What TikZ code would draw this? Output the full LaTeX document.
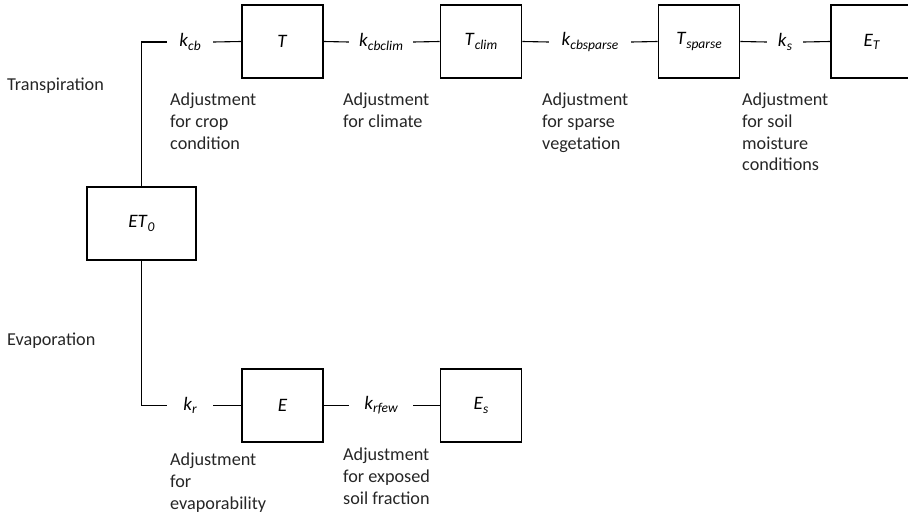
\documentclass[tikz,border=0pt]{standalone}
\usepackage{fontspec}
\setmainfont{Carlito}
\newcommand\ksub[2]{\textit{#1}\raisebox{-0.35ex}{\fontsize{13.5}{13.5}\selectfont\itshape #2}}
\begin{document}
\begin{tikzpicture}[x=1pt,y=-1pt,
  box/.style={draw,line width=1.7pt,minimum width=81pt,minimum height=73pt,inner sep=0pt,font=\fontsize{19}{21}\selectfont},
  kfac/.style={inner sep=0pt,minimum height=20pt,font=\fontsize{19}{21}\selectfont},
  note/.style={anchor=north west,align=left,inner sep=0pt,font=\fontsize{18.2}{21.6}\selectfont,text=black!85},
  conn/.style={line width=1.1pt}]
\useasboundingbox (0,0) rectangle (908,517);
\clip (0,0) rectangle (908,517);
% boxes
\node[box,minimum width=109pt] (ET0) at (141.5,223.5) {\ksub{ET}{0}};
\node[box] (T) at (282.5,41.5) {\textit{T}};
\node[box] (Tclim) at (481,41.5) {\ksub{T}{clim}};
\node[box] (Tsparse) at (699,41.5) {\ksub{T}{sparse}};
\node[box] (ET) at (871.5,41.5) {\ksub{E}{T}};
\node[box] (E) at (282.5,405.5) {\textit{E}};
\node[box] (Es) at (481,405.5) {\ksub{E}{s}};
% factors
\node[kfac,minimum width=46pt] (kcb) at (190,42) {\ksub{k}{cb}};
\node[kfac,minimum width=64pt] (kcbclim) at (381,42) {\ksub{k}{cbclim}};
\node[kfac,minimum width=82pt] (kcbsparse) at (590,42) {\ksub{k}{cbsparse}};
\node[kfac,minimum width=36pt] (ks) at (785,42) {\ksub{k}{s}};
\node[kfac,minimum width=46pt] (kr) at (190,405.5) {\ksub{k}{r}};
\node[kfac,minimum width=64pt] (krfew) at (381,405.5) {\ksub{k}{rfew}};
% connectors
\draw[conn] (ET0.north) |- (kcb.west);
\draw[conn] (kcb.east) -- (T.west);
\draw[conn] (T.east) -- (kcbclim.west);
\draw[conn] (kcbclim.east) -- (Tclim.west);
\draw[conn] (Tclim.east) -- (kcbsparse.west);
\draw[conn] (kcbsparse.east) -- (Tsparse.west);
\draw[conn] (Tsparse.east) -- (ks.west);
\draw[conn] (ks.east) -- (ET.west);
\draw[conn] (ET0.south) |- (kr.west);
\draw[conn] (kr.east) -- (E.west);
\draw[conn] (E.east) -- (krfew.west);
\draw[conn] (krfew.east) -- (Es.west);
% side labels
\node[note,anchor=west] (ltr) at (7,86) {Transpiration};
\node[note,anchor=west] (lev) at (7,341) {Evaporation};
% notes
\node[note] (n1) at (170,93) {Adjustment\\for crop\\condition};
\node[note] (n2) at (343,93) {Adjustment\\for climate};
\node[note] (n3) at (542,93) {Adjustment\\for sparse\\vegetation};
\node[note] (n4) at (742,93) {Adjustment\\for soil\\moisture\\conditions};
\node[note] (n5) at (170,453) {Adjustment\\for\\evaporability};
\node[note] (n6) at (343,448) {Adjustment\\for exposed\\soil fraction};
\end{tikzpicture}
\end{document}
